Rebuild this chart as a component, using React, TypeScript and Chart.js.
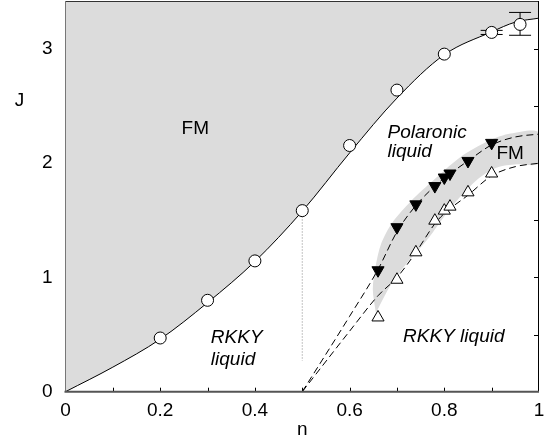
import React, { useEffect, useRef } from "react";
import { Chart, registerables } from "chart.js";

Chart.register(...registerables);

// ---- data ----
const xTickValues = [0, 0.2, 0.4, 0.6, 0.8, 1];
const yTickValues = [0, 1, 2, 3];
const xMinorTicks = [0.1, 0.2, 0.3, 0.4, 0.5, 0.6, 0.7, 0.8, 0.9];
const yRightTicks = [0.5, 1, 1.5, 2, 2.5, 3];

const circleN = [0.2, 0.3, 0.4, 0.5, 0.6, 0.7, 0.8, 0.9, 0.96];
const circleJ = [0.47, 0.8, 1.145, 1.585, 2.155, 2.64, 2.955, 3.145, 3.215];

const errN = [0.9, 0.96];
const errLow = [3.127, 3.12];
const errHigh = [3.163, 3.32];

const filledN = [0.66, 0.7, 0.74, 0.78, 0.8, 0.812, 0.85, 0.9];
const filledJ = [1.063, 1.44, 1.64, 1.8, 1.875, 1.91, 2.02, 2.178];

const openN = [0.66, 0.7, 0.74, 0.78, 0.8, 0.812, 0.85, 0.9];
const openJ = [0.65, 0.98, 1.22, 1.497, 1.585, 1.62, 1.745, 1.91];

const curveN = [0, 0.1, 0.2, 0.3, 0.4, 0.5, 0.6, 0.7, 0.8, 0.9, 0.95, 1];
const curveJ = [0, 0.215, 0.46, 0.78, 1.14, 1.58, 2.09, 2.57, 2.95, 3.15, 3.235, 3.27];

const upperN = [0.5, 0.6, 0.66, 0.7, 0.74, 0.78, 0.8, 0.85, 0.9, 0.95, 1];
const upperJ = [0, 0.66, 1.07, 1.4, 1.63, 1.8, 1.87, 2.02, 2.16, 2.23, 2.255];

const lowerN = [0.5, 0.6, 0.66, 0.7, 0.74, 0.78, 0.8, 0.85, 0.9, 0.95, 1];
const lowerJ = [0, 0.53, 0.84, 1.0, 1.22, 1.47, 1.56, 1.72, 1.89, 1.97, 2.0];

const bandN = [0.655, 0.649, 0.655, 0.667, 0.69, 0.73, 0.777, 0.833, 0.896, 0.94, 1.0, 1.0, 0.953, 0.91, 0.868, 0.812, 0.763, 0.72, 0.685, 0.657];
const bandJ = [0.7, 0.9, 1.1, 1.3, 1.48, 1.67, 1.85, 2.05, 2.2, 2.26, 2.27, 2.0, 1.99, 1.96, 1.85, 1.6, 1.325, 1.12, 0.92, 0.7];

const dottedN = [0.5, 0.5];
const dottedJ = [1.56, 0.27];

const labelTexts = ["FM", "Polaronic", "liquid", "FM", "RKKY", "liquid", "RKKY liquid"];
const labelN = [0.274, 0.68, 0.68, 0.939, 0.307, 0.307, 0.713];
const labelJ = [2.3, 2.27, 2.1, 2.08, 0.472, 0.281, 0.48];
const labelAlign: CanvasTextAlign[] = ["center", "left", "left", "center", "left", "left", "left"];
const labelItalic = [false, true, true, false, true, true, true];

const FONT = '"Liberation Sans", Arial, Helvetica, sans-serif';
const FS = 19;
const GRAY = "#dcdcdc";

const zip = (xs: number[], ys: number[]) => xs.map((x, i) => ({ x, y: ys[i] }));

const CIRCLE_INDEX = 0;

const zeroPad = (scale: any) => {
  scale.paddingTop = 0;
  scale.paddingBottom = 0;
  scale.paddingLeft = 0;
  scale.paddingRight = 0;
};

const overlayPlugin = {
  id: "overlay",
  beforeDatasetsDraw(chart: any) {
    const { ctx, chartArea, scales } = chart;
    ctx.save();
    ctx.strokeStyle = "#000";
    ctx.lineWidth = 1;
    ctx.beginPath();
    xMinorTicks.forEach((v) => {
      const px = Math.round(scales.x.getPixelForValue(v)) + 0.5;
      ctx.moveTo(px, chartArea.bottom);
      ctx.lineTo(px, chartArea.bottom - 4);
    });
    yRightTicks.forEach((v) => {
      const py = Math.round(scales.y.getPixelForValue(v)) + 0.5;
      ctx.moveTo(chartArea.right, py);
      ctx.lineTo(chartArea.right - 5, py);
    });
    ctx.stroke();
    ctx.restore();
  },
  beforeDatasetDraw(chart: any, args: any) {
    if (args.index !== CIRCLE_INDEX) return;
    const { ctx, scales } = chart;
    ctx.save();
    ctx.strokeStyle = "#000";
    ctx.lineWidth = 1;
    ctx.beginPath();
    errN.forEach((n, i) => {
      const px = scales.x.getPixelForValue(n);
      const pLo = scales.y.getPixelForValue(errLow[i]);
      const pHi = scales.y.getPixelForValue(errHigh[i]);
      ctx.moveTo(px, pLo);
      ctx.lineTo(px, pHi);
      ctx.moveTo(px - 11, pLo);
      ctx.lineTo(px + 11, pLo);
      ctx.moveTo(px - 11, pHi);
      ctx.lineTo(px + 11, pHi);
    });
    ctx.stroke();
    ctx.restore();
  },
  afterDatasetsDraw(chart: any) {
    const { ctx, chartArea, scales } = chart;
    const { left, right, top, bottom } = chartArea;
    ctx.save();
    // frame
    ctx.lineWidth = 1;
    ctx.strokeStyle = "#333";
    ctx.beginPath();
    ctx.moveTo(left, top + 0.5);
    ctx.lineTo(right, top + 0.5);
    ctx.stroke();
    ctx.strokeStyle = "#000";
    ctx.beginPath();
    ctx.moveTo(right - 0.5, top);
    ctx.lineTo(right - 0.5, bottom);
    ctx.stroke();
    ctx.strokeStyle = "#777";
    ctx.beginPath();
    ctx.moveTo(left, top);
    ctx.lineTo(left, bottom);
    ctx.stroke();
    ctx.strokeStyle = "#555";
    ctx.lineWidth = 2;
    ctx.beginPath();
    ctx.moveTo(left - 1, bottom);
    ctx.lineTo(right, bottom);
    ctx.stroke();

    // labels
    ctx.fillStyle = "#000";
    ctx.textBaseline = "middle";
    labelTexts.forEach((t, i) => {
      ctx.font = `${labelItalic[i] ? "italic " : ""}${FS}px ${FONT}`;
      ctx.textAlign = labelAlign[i];
      ctx.fillText(t, scales.x.getPixelForValue(labelN[i]), scales.y.getPixelForValue(labelJ[i]));
    });
    // axis titles
    ctx.font = `${FS}px ${FONT}`;
    ctx.textAlign = "center";
    ctx.fillText("J", left - 46, scales.y.getPixelForValue(2.55));
    ctx.fillText("n", (left + right) / 2, bottom + 38);
    ctx.restore();
  },
};

export default function App() {
  const canvasRef = useRef<HTMLCanvasElement | null>(null);

  useEffect(() => {
    if (!canvasRef.current) return;
    const chart = new Chart(canvasRef.current, {
      type: "line",
      data: {
        datasets: [
          {
            label: "circles",
            data: zip(circleN, circleJ),
            showLine: false,
            pointStyle: "circle",
            pointRadius: 6,
            pointBackgroundColor: "#fff",
            pointBorderColor: "#000",
            pointBorderWidth: 1,
            order: 1,
          },
          {
            label: "filled",
            data: zip(filledN, filledJ),
            showLine: false,
            pointStyle: "triangle",
            pointRotation: 180,
            pointRadius: 7,
            pointBackgroundColor: "#000",
            pointBorderColor: "#000",
            pointBorderWidth: 1,
            order: 1,
          },
          {
            label: "open",
            data: zip(openN, openJ),
            showLine: false,
            pointStyle: "triangle",
            pointRadius: 7,
            pointBackgroundColor: "#fff",
            pointBorderColor: "#000",
            pointBorderWidth: 1,
            order: 1,
          },
          {
            label: "boundary",
            data: zip(curveN, curveJ),
            borderColor: "#000",
            borderWidth: 1,
            pointRadius: 0,
            fill: "end",
            backgroundColor: GRAY,
            cubicInterpolationMode: "monotone",
            order: 10,
          },
          {
            label: "band",
            data: zip(bandN, bandJ),
            borderWidth: 0,
            borderColor: "rgba(0,0,0,0)",
            pointRadius: 0,
            fill: "shape",
            backgroundColor: GRAY,
            tension: 0.3,
            order: 9,
          },
          {
            label: "upper",
            data: zip(upperN, upperJ),
            borderColor: "#000",
            borderWidth: 1,
            borderDash: [7, 4],
            pointRadius: 0,
            fill: false,
            cubicInterpolationMode: "monotone",
            order: 5,
          },
          {
            label: "lower",
            data: zip(lowerN, lowerJ),
            borderColor: "#000",
            borderWidth: 1,
            borderDash: [7, 4],
            pointRadius: 0,
            fill: false,
            cubicInterpolationMode: "monotone",
            order: 5,
          },
          {
            label: "dotted",
            data: zip(dottedN, dottedJ),
            borderColor: "#888",
            borderWidth: 1,
            borderDash: [1, 2],
            pointRadius: 0,
            fill: false,
            tension: 0,
            order: 5,
          },
        ],
      } as any,
      options: {
        animation: false,
        responsive: false,
        maintainAspectRatio: false,
        events: [],
        layout: { autoPadding: false, padding: { left: 0, right: 6, top: 1, bottom: 0 } },
        plugins: {
          legend: { display: false },
          tooltip: { enabled: false },
          title: { display: false },
        },
        scales: {
          x: {
            type: "linear",
            min: 0,
            max: 1,
            grid: { display: false, drawTicks: false },
            border: { display: false },
            afterBuildTicks: (scale: any) => {
              scale.ticks = xTickValues.map((v) => ({ value: v }));
            },
            afterFit: (scale: any) => {
              scale.height = 46.3;
              zeroPad(scale);
            },
            ticks: {
              padding: 8,
              color: "#000",
              font: { family: FONT, size: FS },
              maxRotation: 0,
              autoSkip: false,
              callback: (v: any) => String(v),
            },
          },
          y: {
            type: "linear",
            min: 0,
            max: 3.42,
            grid: { display: false, drawTicks: false },
            border: { display: false },
            afterBuildTicks: (scale: any) => {
              scale.ticks = yTickValues.map((v) => ({ value: v }));
            },
            afterFit: (scale: any) => {
              scale.width = 65.5;
              zeroPad(scale);
            },
            ticks: {
              padding: 13,
              color: "#000",
              font: { family: FONT, size: FS },
              autoSkip: false,
              callback: (v: any) => String(v),
            },
          },
        },
      } as any,
      plugins: [overlayPlugin],
    });
    return () => chart.destroy();
  }, []);

  return (
    <div style={{ position: "absolute", left: 0, top: 0, width: 545, height: 438, background: "#fff" }}>
      <canvas ref={canvasRef} width={545} height={438} style={{ width: 545, height: 438, display: "block" }} />
    </div>
  );
}
